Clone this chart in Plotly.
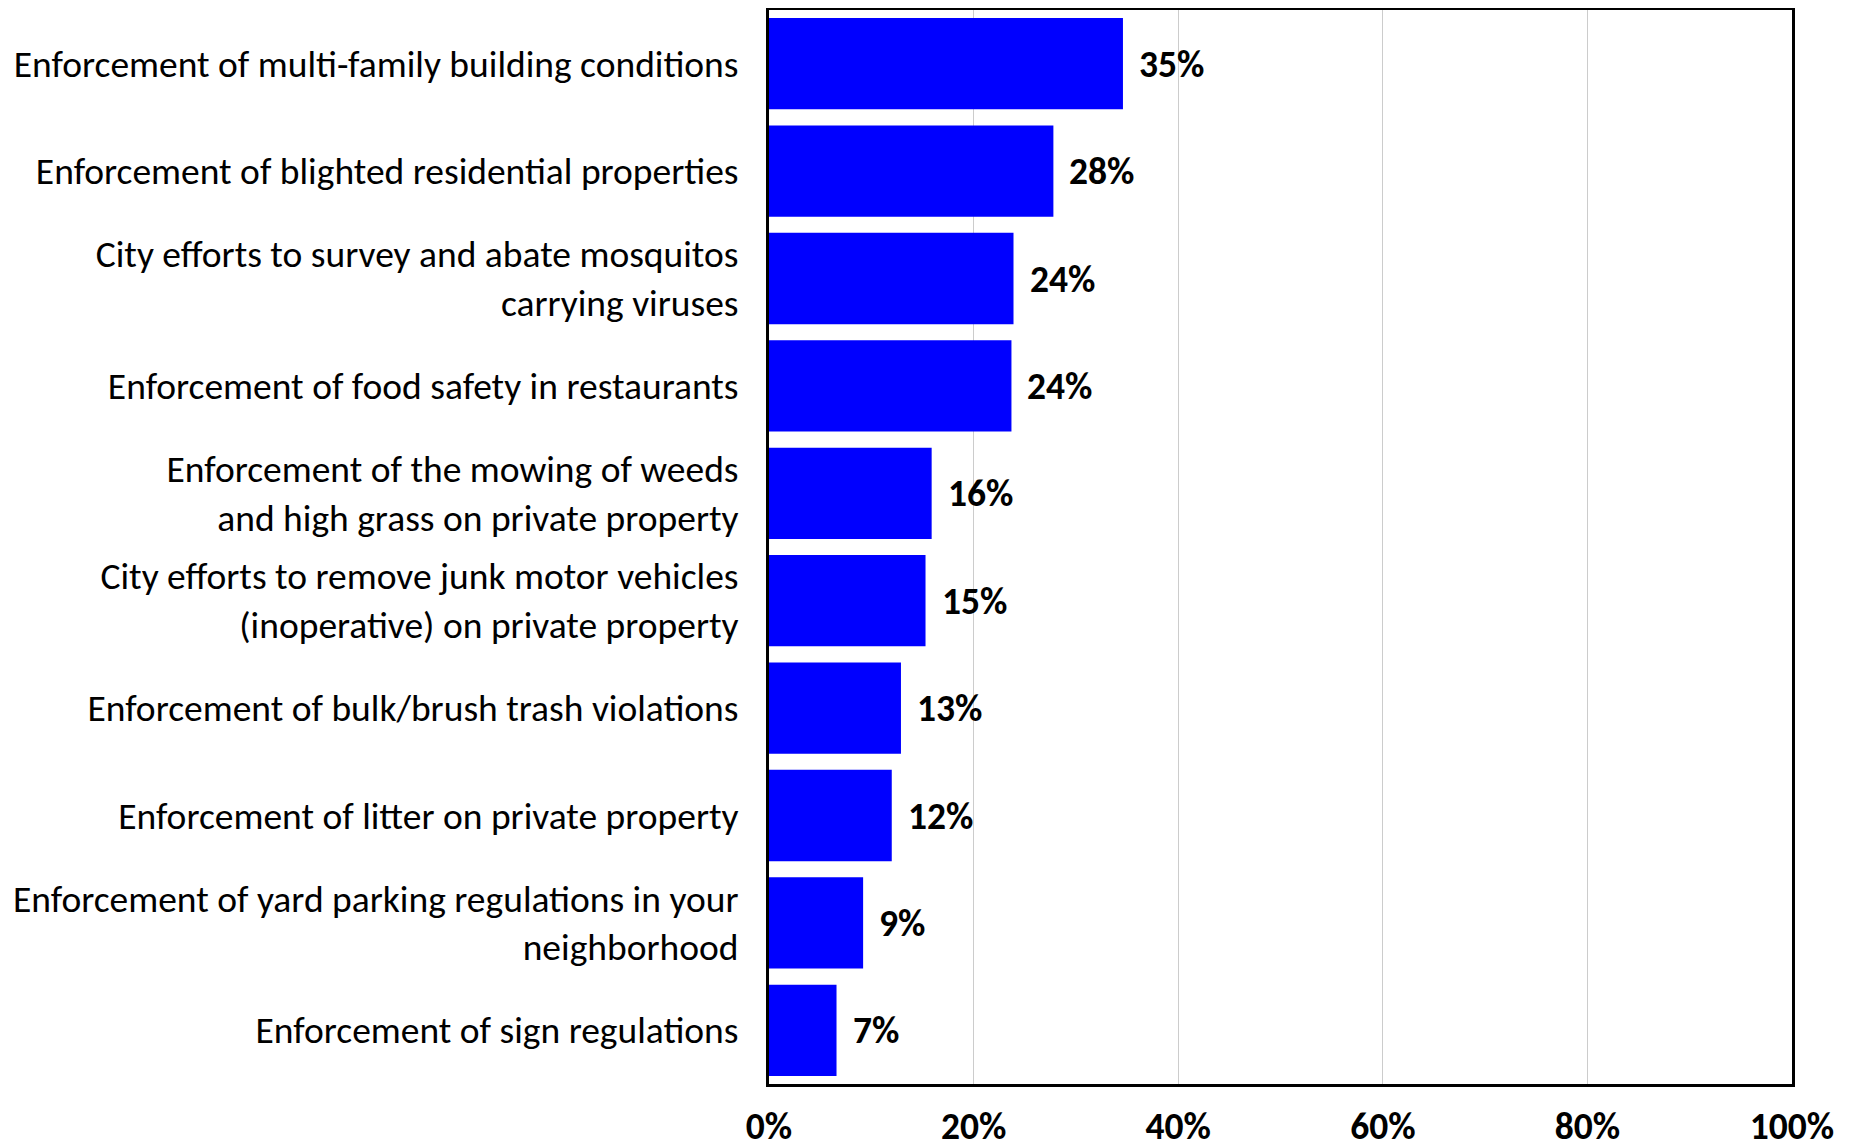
import plotly.graph_objects as go

categories = [
    "Enforcement of multi-family building conditions",
    "Enforcement of blighted residential properties",
    "City efforts to survey and abate mosquitos<br>carrying viruses",
    "Enforcement of food safety in restaurants",
    "Enforcement of the mowing of weeds<br>and high grass on private property",
    "City efforts to remove junk motor vehicles<br>(inoperative) on private property",
    "Enforcement of bulk/brush trash violations",
    "Enforcement of litter on private property",
    "Enforcement of yard parking regulations in your<br>neighborhood",
    "Enforcement of sign regulations",
]
values = [34.6, 27.8, 23.9, 23.7, 15.9, 15.3, 12.9, 12.0, 9.2, 6.6]
tick_vals = [0, 20, 40, 60, 80, 100]
tick_text = ["0%", "20%", "40%", "60%", "80%", "100%"]

FONT = "Carlito, Lato, sans-serif"
FS = 37.5

fig = go.Figure()
fig.add_trace(go.Bar(
    x=values, y=categories, orientation="h",
    marker=dict(color="#0000FF", line=dict(width=0)),
    hoverinfo="skip",
))
for c, v in zip(categories, values):
    fig.add_annotation(
        x=v, y=c, text="<b>%d%%</b>" % round(v + 1e-9),
        showarrow=False, xanchor="left", yanchor="middle", xshift=14,
        font=dict(family=FONT, size=FS, color="black"),
    )

fig.update_layout(
    width=1855, height=1139,
    margin=dict(l=761, r=71, t=2, b=63, autoexpand=False),
    paper_bgcolor="white", plot_bgcolor="white",
    bargap=0.15, showlegend=False,
    font=dict(family=FONT, size=FS, color="black"),
)
fig.update_xaxes(
    range=[0, 100], tickvals=tick_vals, ticktext=["<b>%s</b>" % t for t in tick_text],
    showgrid=True, gridcolor="#cccccc", gridwidth=1, zeroline=False,
    showline=True, mirror=True, linecolor="black", linewidth=3,
    ticks="", ticklabelstandoff=7,
    tickfont=dict(family=FONT, size=FS, color="black"),
)
fig.update_yaxes(
    autorange="reversed", showgrid=False, zeroline=False,
    showline=True, mirror=True, linecolor="black", linewidth=3,
    ticks="", ticklabelstandoff=20,
    tickfont=dict(family=FONT, size=FS, color="black"),
)
fig.write_html("out.html")
